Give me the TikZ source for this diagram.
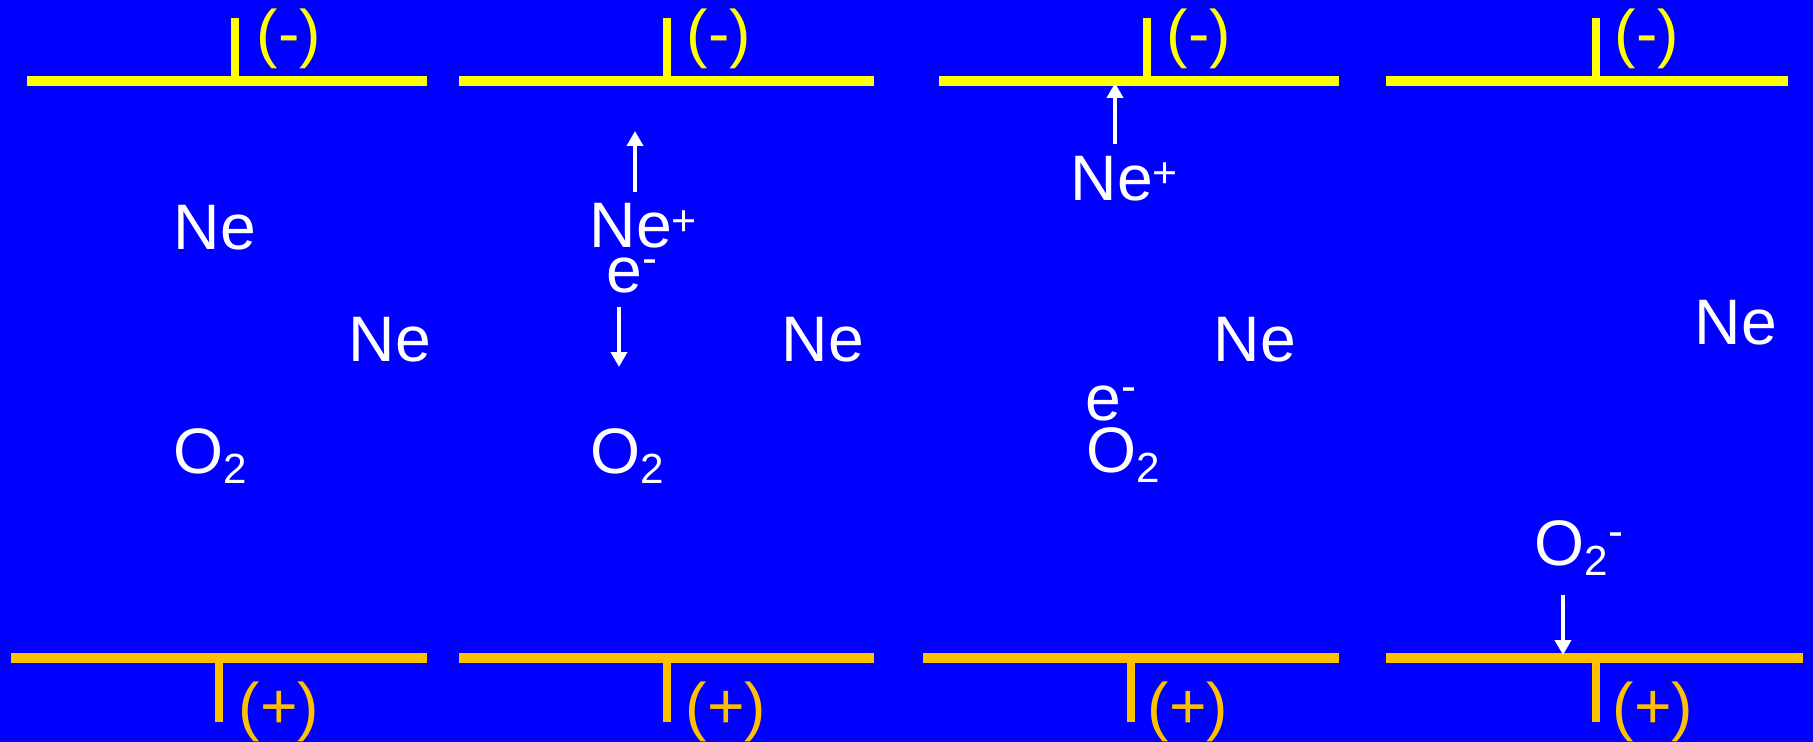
\documentclass[tikz,border=0pt]{standalone}
\usepackage{fontspec}
\setmainfont{Liberation Sans}
\usetikzlibrary{positioning, arrows.meta}

\definecolor{panelblue}{RGB}{0,0,255}
\definecolor{cathodeyellow}{RGB}{255,255,0}
\definecolor{anodeorange}{RGB}{255,192,0}

\newcommand\specfont{\fontsize{18.3}{22}\selectfont}
\newcommand\chsub[1]{\raisebox{-0.17em}{\fontsize{12}{14}\selectfont #1}}
\newcommand\ionplus{\raisebox{0.19em}{\fontsize{12.2}{14}\selectfont +}}
\newcommand\ionminus{\raisebox{0.28em}{\fontsize{12.8}{14}\selectfont -}}

\begin{document}
\begin{tikzpicture}[
  species/.style={text=white, font=\specfont, inner sep=0pt, anchor=base west},
  polarity/.style={font=\specfont, inner sep=0pt, anchor=base west},
  plate/.style={line width=1mm},
  stub/.style={line width=0.8mm},
  ionarrow/.style={draw=white, line width=1.1pt,
                   -{Triangle[width=1.6mm, length=1.5mm]}}
]
  \fill[panelblue] (0,0) rectangle (18.13,-7.42);
  \useasboundingbox (0,0) rectangle (18.13,-7.42);

  % electrodes, top (-)
  \draw[plate, cathodeyellow] (0.27,-0.815) -- (4.27,-0.815);
  \draw[stub, cathodeyellow] (2.35,-0.815) -- (2.35,-0.18);
  \node[polarity, text=cathodeyellow] (neg1) at (2.56,-0.56) {(-)};
  \draw[plate, cathodeyellow] (4.59,-0.815) -- (8.74,-0.815);
  \draw[stub, cathodeyellow] (6.67,-0.815) -- (6.67,-0.18);
  \node[polarity, text=cathodeyellow] (neg2) at (6.86,-0.56) {(-)};
  \draw[plate, cathodeyellow] (9.39,-0.815) -- (13.39,-0.815);
  \draw[stub, cathodeyellow] (11.47,-0.815) -- (11.47,-0.18);
  \node[polarity, text=cathodeyellow] (neg3) at (11.66,-0.56) {(-)};
  \draw[plate, cathodeyellow] (13.86,-0.815) -- (17.88,-0.815);
  \draw[stub, cathodeyellow] (15.96,-0.815) -- (15.96,-0.18);
  \node[polarity, text=cathodeyellow] (neg4) at (16.14,-0.56) {(-)};

  % electrodes, bottom (+)
  \draw[plate, anodeorange] (0.11,-6.58) -- (4.27,-6.58);
  \draw[stub, anodeorange] (2.19,-6.58) -- (2.19,-7.22);
  \node[polarity, text=anodeorange] (pos1) at (2.38,-7.28) {(+)};
  \draw[plate, anodeorange] (4.59,-6.58) -- (8.74,-6.58);
  \draw[stub, anodeorange] (6.67,-6.58) -- (6.67,-7.22);
  \node[polarity, text=anodeorange] (pos2) at (6.85,-7.28) {(+)};
  \draw[plate, anodeorange] (9.23,-6.58) -- (13.39,-6.58);
  \draw[stub, anodeorange] (11.31,-6.58) -- (11.31,-7.22);
  \node[polarity, text=anodeorange] (pos3) at (11.47,-7.28) {(+)};
  \draw[plate, anodeorange] (13.86,-6.58) -- (18.03,-6.58);
  \draw[stub, anodeorange] (15.96,-6.58) -- (15.96,-7.22);
  \node[polarity, text=anodeorange] (pos4) at (16.12,-7.28) {(+)};

  % panel 1: neutral gas
  \node[species] (ne1a) at (1.73,-2.49) {Ne};
  \node[species] (ne1b) at (3.48,-3.61) {Ne};
  \node[species] (ox1)  at (1.73,-4.73) {O\chsub{2}};

  % panel 2: ionisation
  \node[species] (nep2) at (5.89,-2.48) {Ne\ionplus};
  \node[species] (el2)  at (6.06,-2.92) {e\ionminus};
  \node[species] (ne2)  at (7.81,-3.61) {Ne};
  \node[species] (ox2)  at (5.90,-4.73) {O\chsub{2}};
  \coordinate (up2)   at (6.35,-1.31);
  \coordinate (down2) at (6.19,-3.67);

  % panel 3: ion reaches cathode
  \node[species] (nep3) at (10.70,-2.00) {Ne\ionplus};
  \node[species] (ne3)  at (12.13,-3.61) {Ne};
  \node[species] (el3)  at (10.85,-4.20) {e\ionminus};
  \node[species] (ox3)  at (10.86,-4.72) {O\chsub{2}};
  \coordinate (hit3) at (11.15,-0.83);

  % panel 4: negative ion reaches anode
  \node[species] (ne4) at (16.94,-3.44) {Ne};
  \node[species] (ox4) at (15.34,-5.65) {O\chsub{2}\ionminus};
  \coordinate (hit4) at (15.63,-6.55);

  % arrows
  \draw[ionarrow, shorten <=1.1mm] (nep2.north -| up2) -- (up2);
  \draw[ionarrow, shorten <=1.4mm] (el2.south -| down2) -- (down2);
  \draw[ionarrow, shorten <=1.1mm] (nep3.north -| hit3) -- (hit3);
  \draw[ionarrow, shorten <=1.8mm] (ox4.south -| hit4) -- (hit4);
\end{tikzpicture}
\end{document}
